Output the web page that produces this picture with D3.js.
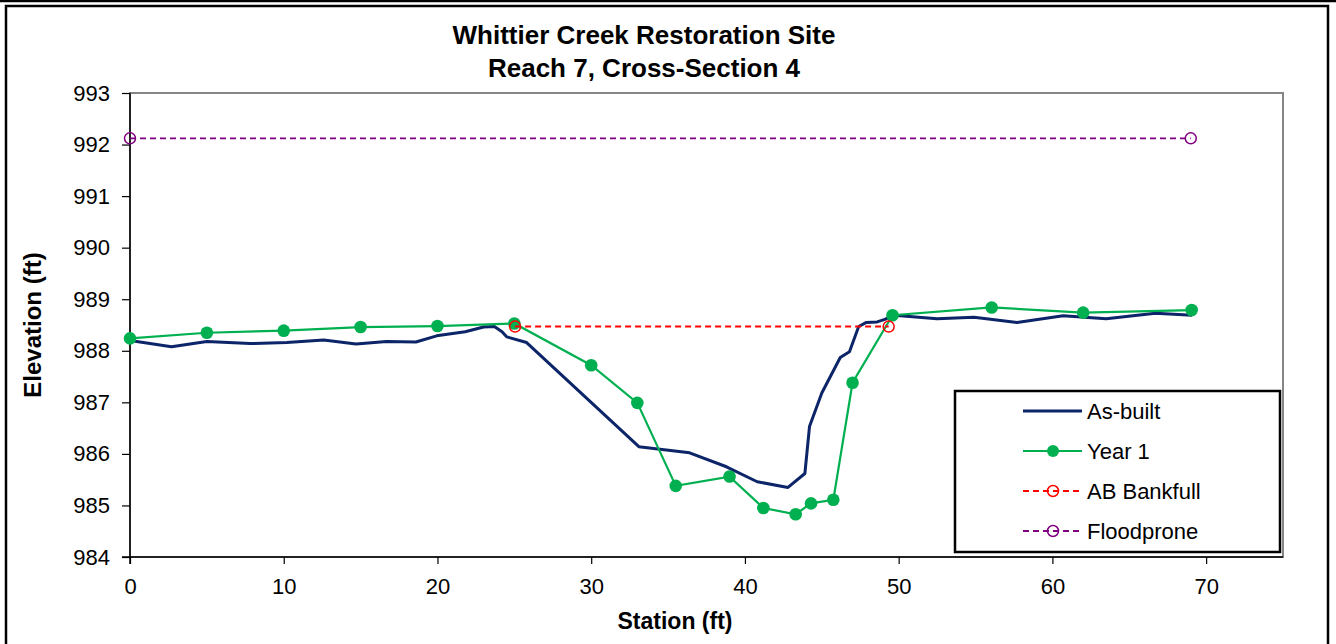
<!DOCTYPE html>
<html>
<head>
<meta charset="utf-8">
<script src="https://cdn.jsdelivr.net/npm/d3@7"></script>
<style>
  body { margin: 0; background: #fff; }
  text { font-family: "Liberation Sans", Arial, sans-serif; }
</style>
</head>
<body>
<div id="chart"></div>
<script>
const width = 1336
const height = 644
const margin = { top: 93, bottom: 87, left: 130, right: 53 }

// As-built survey
const asBuiltStation = [0, 2.7, 5.0, 7.8, 10.2, 12.6, 14.7, 16.7, 18.6, 19.95, 21.8, 23.0, 23.7, 24.2, 24.5, 25.8,
    33.1, 36.4, 38.8, 40.8, 42.8, 43.9, 44.2, 45.0, 46.2, 46.8, 47.4, 47.9, 48.6, 49.1, 49.7,
    52.5, 54.9, 57.7, 60.7, 63.5, 66.7, 69.1]
const asBuiltElev = [988.20, 988.08, 988.18, 988.14, 988.16, 988.21, 988.13, 988.18, 988.17, 988.29, 988.37, 988.46, 988.47, 988.37, 988.27, 988.16,
    986.14, 986.02, 985.75, 985.46, 985.35, 985.62, 986.53, 987.18, 987.87, 987.98, 988.47, 988.55, 988.56, 988.61, 988.69,
    988.62, 988.65, 988.55, 988.68, 988.62, 988.73, 988.69]

// Year 1 survey
const year1Station = [0, 5.0, 10.0, 15.0, 20.0, 25.0, 30.0, 33.0, 35.5, 39.0, 41.2, 43.3, 44.3, 45.75, 47.0, 49.6, 56.05, 62.0, 69.06]
const year1Elev = [988.24, 988.35, 988.39, 988.46, 988.48, 988.53, 987.72, 986.99, 985.38, 985.56, 984.95, 984.83, 985.04, 985.11, 987.38, 988.69, 988.84, 988.74, 988.79]

const bankfullStation = [25.05, 49.35]
const bankfullElev = [988.47, 988.47]

const floodStation = [0, 69]
const floodElev = [992.12, 992.12]

const xTicks = [0, 10, 20, 30, 40, 50, 60, 70]
const yTicks = [984, 985, 986, 987, 988, 989, 990, 991, 992, 993]

const toPts = (xs, ys) => xs.map((s, i) => ({ x: s, y: ys[i] }))

const svg = d3.select("#chart").append("svg")
    .attr("width", width)
    .attr("height", height)

// outer frame
svg.append("line").attr("x1", 0).attr("x2", width).attr("y1", 1).attr("y2", 1)
    .attr("stroke", "#000").attr("stroke-width", 2.5)
svg.append("rect").attr("x", 6).attr("y", 6).attr("width", 1322).attr("height", 660)
    .attr("fill", "none").attr("stroke", "#000").attr("stroke-width", 2.5)

const innerW = width - margin.left - margin.right
const innerH = height - margin.top - margin.bottom

const x = d3.scaleLinear().domain([0, 75]).range([margin.left, margin.left + innerW])
const y = d3.scaleLinear().domain([984, 993]).range([margin.top + innerH, margin.top])

// plot frame (gray top/right)
svg.append("rect")
    .attr("x", margin.left).attr("y", margin.top)
    .attr("width", innerW).attr("height", innerH)
    .attr("fill", "none").attr("stroke", "#868686").attr("stroke-width", 2)

const xAxis = d3.axisBottom(x).tickValues(xTicks).tickSize(7).tickPadding(14)
const yAxis = d3.axisLeft(y).tickValues(yTicks).tickSize(8).tickPadding(12)

const xAxisGroup = svg.append("g")
    .attr("transform", `translate(0, ${margin.top + innerH})`)
    .call(xAxis)
const yAxisGroup = svg.append("g")
    .attr("transform", `translate(${margin.left}, 0)`)
    .call(yAxis)

xAxisGroup.select(".domain").attr("d", `M${margin.left - 8},0H${margin.left + innerW}`)
yAxisGroup.select(".domain").attr("d", `M0,${margin.top}V${margin.top + innerH + 7}`)

for (const g of [xAxisGroup, yAxisGroup]) {
    g.select(".domain").attr("stroke", "#000").attr("stroke-width", 1.5)
    g.selectAll(".tick line").attr("stroke", "#000").attr("stroke-width", 1.2)
    g.selectAll(".tick text").attr("font-size", 22).attr("fill", "#000")
        .attr("font-family", '"Liberation Sans", Arial, sans-serif')
}

const line = d3.line().x(d => x(d.x)).y(d => y(d.y))

// floodprone
svg.append("path").attr("d", line(toPts(floodStation, floodElev)))
    .attr("fill", "none").attr("stroke", "#800080").attr("stroke-width", 1.8).attr("stroke-dasharray", "6,4")
svg.selectAll(".flood").data(toPts(floodStation, floodElev)).join("circle")
    .attr("cx", d => x(d.x)).attr("cy", d => y(d.y)).attr("r", 5.5)
    .attr("fill", "none").attr("stroke", "#800080").attr("stroke-width", 1.5)

// as-built
svg.append("path").attr("d", line(toPts(asBuiltStation, asBuiltElev)))
    .attr("fill", "none").attr("stroke", "#0c2468").attr("stroke-width", 3).attr("stroke-linejoin", "round")

// year 1
svg.append("path").attr("d", line(toPts(year1Station, year1Elev)))
    .attr("fill", "none").attr("stroke", "#00b050").attr("stroke-width", 2.2)
svg.selectAll(".yr1").data(toPts(year1Station, year1Elev)).join("circle")
    .attr("cx", d => x(d.x)).attr("cy", d => y(d.y)).attr("r", 6.3)
    .attr("fill", "#00b050")

// bankfull
svg.append("path").attr("d", line(toPts(bankfullStation, bankfullElev)))
    .attr("fill", "none").attr("stroke", "#ff0000").attr("stroke-width", 2).attr("stroke-dasharray", "6,4")
svg.selectAll(".bkf").data(toPts(bankfullStation, bankfullElev)).join("circle")
    .attr("cx", d => x(d.x)).attr("cy", d => y(d.y)).attr("r", 5.5)
    .attr("fill", "none").attr("stroke", "#ff0000").attr("stroke-width", 1.5)

// titles
svg.append("text").attr("x", 644).attr("y", 44).attr("text-anchor", "middle")
    .attr("font-size", 26).attr("font-weight", "bold").text("Whittier Creek Restoration Site")
svg.append("text").attr("x", 644).attr("y", 77).attr("text-anchor", "middle")
    .attr("font-size", 26).attr("font-weight", "bold").text("Reach 7, Cross-Section 4")
svg.append("text").attr("x", 675).attr("y", 629).attr("text-anchor", "middle")
    .attr("font-size", 23).attr("font-weight", "bold").text("Station (ft)")
svg.append("text").attr("transform", `translate(41, ${margin.top + innerH / 2}) rotate(-90)`)
    .attr("text-anchor", "middle")
    .attr("font-size", 24).attr("font-weight", "bold").text("Elevation (ft)")

// legend
svg.append("rect").attr("x", 955).attr("y", 391).attr("width", 325).attr("height", 161)
    .attr("fill", "#fff").attr("stroke", "#000").attr("stroke-width", 2.5)
const legendItems = [
    { name: "As-built", color: "#0c2468", dash: null, marker: null, w: 3 },
    { name: "Year 1", color: "#00b050", dash: null, marker: "fill", w: 2.2 },
    { name: "AB Bankfull", color: "#ff0000", dash: "6,4", marker: "open", w: 2 },
    { name: "Floodprone", color: "#800080", dash: "6,4", marker: "open", w: 1.8 }
]
legendItems.forEach((d, i) => {
    const ly = 411 + i * 40
    svg.append("line").attr("x1", 1023).attr("x2", 1082).attr("y1", ly).attr("y2", ly)
        .attr("stroke", d.color).attr("stroke-width", d.w).attr("stroke-dasharray", d.dash)
    if (d.marker === "fill") {
        svg.append("circle").attr("cx", 1053).attr("cy", ly).attr("r", 6).attr("fill", d.color)
    } else if (d.marker === "open") {
        svg.append("circle").attr("cx", 1053).attr("cy", ly).attr("r", 5.5)
            .attr("fill", "none").attr("stroke", d.color).attr("stroke-width", 1.5)
    }
    svg.append("text").attr("x", 1087).attr("y", ly + 8).attr("font-size", 22).text(d.name)
})
</script>
</body>
</html>
